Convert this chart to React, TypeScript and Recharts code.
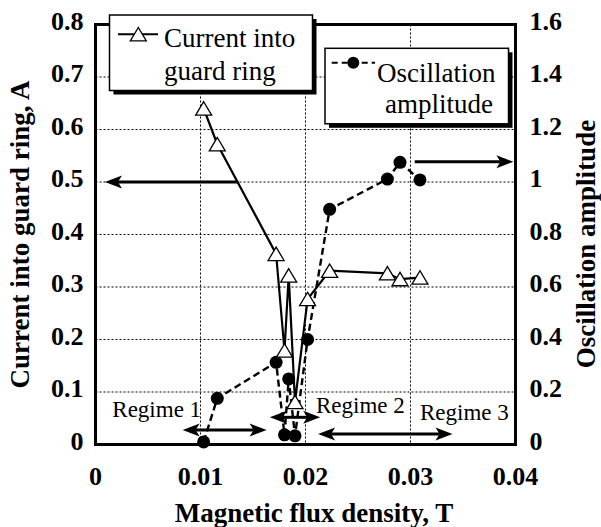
import React from "react";
import {
  LineChart,
  Line,
  XAxis,
  YAxis,
  CartesianGrid,
  ReferenceLine,
  ReferenceDot,
  Legend,
  Label,
} from "recharts";

// measured points, in the order they were taken
const fluxDensity = [0.0103, 0.0116, 0.0172, 0.018, 0.0184, 0.019, 0.0202, 0.0223, 0.0278, 0.029, 0.0309];
const guardRingCurrent = [0.64, 0.572, 0.363, 0.179, 0.322, 0.081, 0.277, 0.331, 0.326, 0.315, 0.318];
const oscillationAmplitude = [0.01, 0.176, 0.313, 0.037, 0.25, 0.033, 0.4, 0.896, 1.011, 1.075, 1.008];

const fluxTicks = [0, 0.01, 0.02, 0.03, 0.04];
const currentTicks = [0, 0.1, 0.2, 0.3, 0.4, 0.5, 0.6, 0.7, 0.8];
const amplitudeTicks = [0, 0.2, 0.4, 0.6, 0.8, 1, 1.2, 1.4, 1.6];
const regimeNames = ["Regime 1", "Regime 2", "Regime 3"];

const data = fluxDensity.map((b, i) => ({
  b,
  current: guardRingCurrent[i],
  amplitude: oscillationAmplitude[i],
}));

// minor tick positions for the frame
const minorTicks = (max: number, step: number) => {
  const out: number[] = [];
  for (let i = 0; i * step <= max + 1e-9; i++) out.push(+(i * step).toFixed(4));
  return out;
};

const SERIF = "Liberation Serif, Times New Roman, DejaVu Serif, serif";
const W = 601;
const H = 527;

// regime arrows and labels (data units)
const regimes = [
  { from: 0.0083, to: 0.0163, at: 0.0276, labelX: 0.0016, labelY: 0.0524 },
  { from: 0.0166, to: 0.0214, at: 0.0518, labelX: 0.021, labelY: 0.0606 },
  { from: 0.0212, to: 0.034, at: 0.02, labelX: 0.0309, labelY: 0.0467 },
];

const arrowShape = (both: boolean) => (p: any) => {
  const { x1, y1, x2, y2 } = p;
  const dir = Math.sign(x2 - x1) || 1;
  const L = 17;
  const h = 6.5;
  const head = (tx: number, ty: number, d: number) =>
    `${tx},${ty} ${tx - d * L},${ty - h} ${tx - d * (L - 4)},${ty} ${tx - d * L},${ty + h}`;
  return (
    <g>
      <line
        x1={both ? x1 + dir * (L - 4) : x1}
        y1={y1}
        x2={x2 - dir * (L - 4)}
        y2={y2}
        stroke="#000"
        strokeWidth={3}
      />
      <polygon points={head(x2, y2, dir)} fill="#000" />
      {both && <polygon points={head(x1, y1, -dir)} fill="#000" />}
    </g>
  );
};

const Triangle = (p: any) => {
  const { cx, cy } = p;
  return (
    <polygon
      key={`tri-${p.index}`}
      points={`${cx},${cy - 6.8} ${cx - 8},${cy + 6.6} ${cx + 8},${cy + 6.6}`}
      fill="#fff"
      stroke="#000"
      strokeWidth={1.3}
    />
  );
};

const Dot = (p: any) => <circle key={`dot-${p.index}`} cx={p.cx} cy={p.cy} r={6.5} fill="#000" />;

const tickStyle = { fontFamily: SERIF, fontSize: 26, fontWeight: 700 };

const LeftTick = (p: any) => (
  <text x={p.x - 12} y={p.y + 5} textAnchor="end" fill="#000" style={tickStyle}>
    {p.payload.value}
  </text>
);

const RightTick = (p: any) => (
  <text x={p.x + 14} y={p.y + 5} textAnchor="start" fill="#000" style={tickStyle}>
    {p.payload.value}
  </text>
);

const BottomTick = (p: any) => (
  <text x={p.x} y={p.y + 40} textAnchor="middle" fill="#000" style={tickStyle}>
    {p.payload.value}
  </text>
);

const titleStyle = { fontFamily: SERIF, fontSize: 27, fontWeight: 700 };
const legendStyle = { fontFamily: SERIF, fontSize: 27 };

// two framed legend boxes with a drop shadow
const LegendBoxes = () => (
  <svg width={W} height={140} style={{ position: "absolute", left: 0, top: 0, overflow: "visible" }}>
    <rect x={113.5} y={19} width={203} height={75.5} fill="#000" />
    <rect x={109.5} y={15} width={203} height={75.5} fill="#fff" stroke="#000" strokeWidth={1.5} />
    <line x1={118} y1={34.3} x2={158} y2={34.3} stroke="#000" strokeWidth={2} />
    <Triangle cx={138.3} cy={34.3} index="legend" />
    <text x={164} y={46.7} fill="#000" style={legendStyle}>Current into</text>
    <text x={164} y={80} fill="#000" style={legendStyle}>guard ring</text>

    <rect x={329} y={52.3} width={183.5} height={75.5} fill="#000" />
    <rect x={325} y={48.3} width={183.5} height={75.5} fill="#fff" stroke="#000" strokeWidth={1.5} />
    <line x1={331.7} y1={62.7} x2={375} y2={62.7} stroke="#000" strokeWidth={2} strokeDasharray="6 4" />
    <circle cx={353.3} cy={62.7} r={6} fill="#000" />
    <text x={377} y={81.7} fill="#000" style={legendStyle}>Oscillation</text>
    <text x={385} y={113.3} fill="#000" style={legendStyle}>amplitude</text>
  </svg>
);

const frameLine = { stroke: "#000", strokeWidth: 3, strokeLinecap: "square" as const };
const minorTickLine = { stroke: "#000", strokeWidth: 1.3 };

export default function App() {
  return (
    <div style={{ position: "absolute", left: 0, top: 0, width: W, height: H, background: "#fff" }}>
      <LineChart
        width={W}
        height={H}
        data={data}
        margin={{ top: 24.5, right: 5.5, bottom: 22.5, left: 15.5 }}
      >
        <CartesianGrid
          xAxisId="b"
          yAxisId="cur"
          stroke="#000"
          strokeWidth={1}
          strokeDasharray="2 2"
        />

        <XAxis
          xAxisId="b"
          dataKey="b"
          type="number"
          domain={[0, 0.04]}
          ticks={fluxTicks}
          interval={0}
          height={60}
          tickSize={0}
          tickMargin={0}
          tickLine={false}
          axisLine={frameLine}
          tick={BottomTick}
        >
          <Label
            content={(p: any) => {
              const vb = p.viewBox;
              return (
                <text x={vb.x + vb.width / 2 + 8.5} y={vb.y + 77} textAnchor="middle" fill="#000" style={titleStyle}>
                  Magnetic flux density, T
                </text>
              );
            }}
          />
        </XAxis>
        <XAxis
          xAxisId="bm"
          type="number"
          orientation="bottom"
          mirror
          domain={[0, 0.04]}
          ticks={minorTicks(0.04, 0.002)}
          interval={0}
          tickSize={5}
          tick={false}
          tickLine={minorTickLine}
          axisLine={false}
        />
        <XAxis
          xAxisId="t"
          type="number"
          orientation="top"
          mirror
          domain={[0, 0.04]}
          ticks={minorTicks(0.04, 0.002)}
          interval={0}
          tickSize={5}
          tick={false}
          tickLine={minorTickLine}
          axisLine={frameLine}
        />

        <YAxis
          yAxisId="cur"
          type="number"
          domain={[0, 0.8]}
          ticks={currentTicks}
          interval={0}
          width={80}
          tickSize={0}
          tickMargin={0}
          tickLine={false}
          axisLine={frameLine}
          tick={LeftTick}
        >
          <Label
            content={(p: any) => {
              const vb = p.viewBox;
              const x = vb.x + 13.5;
              const y = vb.y + vb.height / 2;
              return (
                <text x={x} y={y} textAnchor="middle" transform={`rotate(-90, ${x}, ${y})`} fill="#000" style={titleStyle}>
                  Current into guard ring, A
                </text>
              );
            }}
          />
        </YAxis>
        <YAxis
          yAxisId="curm"
          type="number"
          orientation="left"
          mirror
          domain={[0, 0.8]}
          ticks={minorTicks(0.8, 0.02)}
          interval={0}
          tickSize={5}
          tick={false}
          tickLine={minorTickLine}
          axisLine={false}
        />
        <YAxis
          yAxisId="amp"
          orientation="right"
          type="number"
          domain={[0, 1.6]}
          ticks={amplitudeTicks}
          interval={0}
          width={80}
          tickSize={0}
          tickMargin={0}
          tickLine={false}
          axisLine={frameLine}
          tick={RightTick}
        >
          <Label
            content={(p: any) => {
              const vb = p.viewBox;
              const x = vb.x + 79;
              const y = vb.y + vb.height / 2 + 9.5;
              return (
                <text x={x} y={y} textAnchor="middle" transform={`rotate(-90, ${x}, ${y})`} fill="#000" style={titleStyle}>
                  Oscillation amplitude
                </text>
              );
            }}
          />
        </YAxis>
        <YAxis
          yAxisId="ampm"
          type="number"
          orientation="right"
          mirror
          domain={[0, 1.6]}
          ticks={minorTicks(1.6, 0.04)}
          interval={0}
          tickSize={5}
          tick={false}
          tickLine={minorTickLine}
          axisLine={false}
        />

        {/* arrows pointing each curve to its axis */}
        <ReferenceLine
          xAxisId="b"
          yAxisId="cur"
          segment={[{ x: 0.0136, y: 0.5 }, { x: 0.0009, y: 0.5 }]}
          ifOverflow="visible"
          shape={arrowShape(false)}
        />
        <ReferenceLine
          xAxisId="b"
          yAxisId="amp"
          segment={[{ x: 0.0304, y: 1.077 }, { x: 0.0398, y: 1.077 }]}
          ifOverflow="visible"
          shape={arrowShape(false)}
        />

        {regimes.map((r, i) => (
          <ReferenceLine
            key={`span-${i}`}
            xAxisId="b"
            yAxisId="cur"
            segment={[{ x: r.from, y: r.at }, { x: r.to, y: r.at }]}
            ifOverflow="visible"
            shape={arrowShape(true)}
          />
        ))}
        {regimes.map((r, i) => (
          <ReferenceDot
            key={`regime-${i}`}
            xAxisId="b"
            yAxisId="cur"
            x={r.labelX}
            y={r.labelY}
            ifOverflow="visible"
            shape={(p: any) => (
              <text x={p.cx} y={p.cy} fill="#000" style={{ fontFamily: SERIF, fontSize: 23 }}>
                {regimeNames[i]}
              </text>
            )}
          />
        ))}

        <Line
          xAxisId="b"
          yAxisId="amp"
          dataKey="amplitude"
          name="Oscillation amplitude"
          type="linear"
          stroke="#000"
          strokeWidth={2.4}
          strokeDasharray="7 4"
          dot={Dot}
          activeDot={false}
          isAnimationActive={false}
        />
        <Line
          xAxisId="b"
          yAxisId="cur"
          dataKey="current"
          name="Current into guard ring"
          type="linear"
          stroke="#000"
          strokeWidth={2.2}
          dot={Triangle}
          activeDot={false}
          isAnimationActive={false}
        />

        <Legend
          verticalAlign="top"
          wrapperStyle={{ left: 0, top: 0, width: W, height: 0, margin: 0 }}
          content={() => <LegendBoxes />}
        />
      </LineChart>
    </div>
  );
}
